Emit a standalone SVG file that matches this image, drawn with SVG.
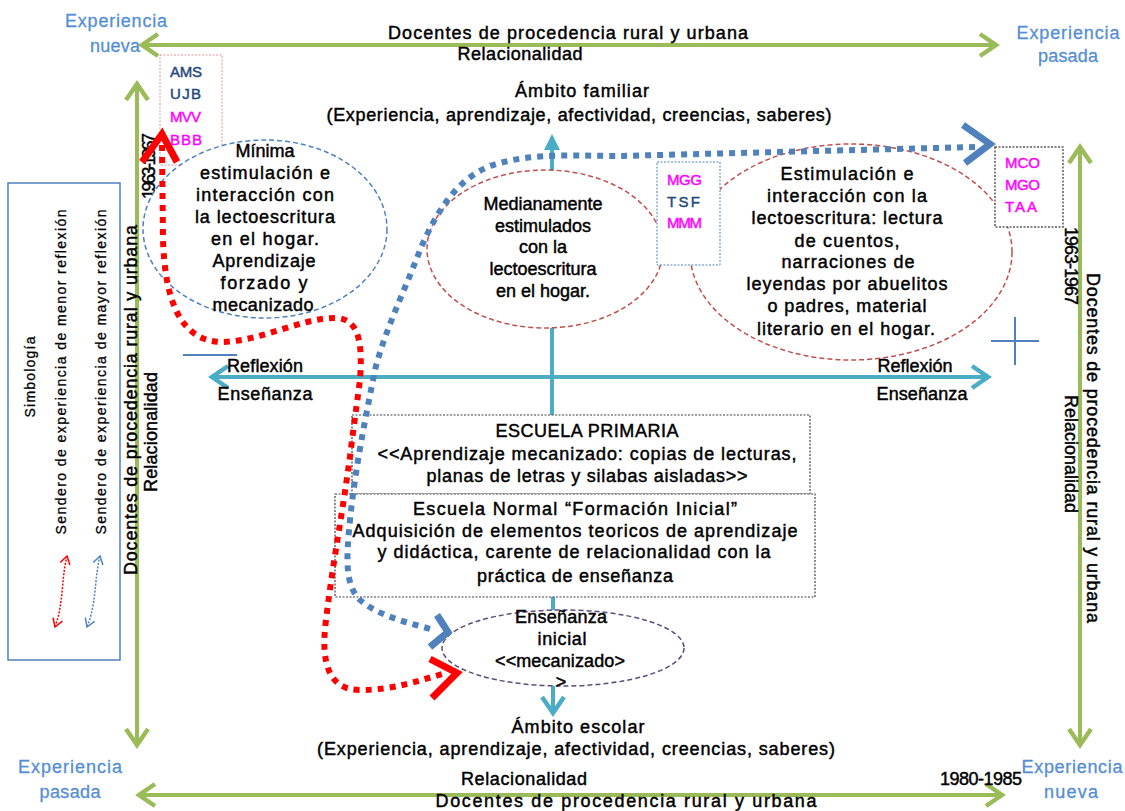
<svg xmlns="http://www.w3.org/2000/svg" width="1125" height="811" viewBox="0 0 1125 811">
<style>
text{font-family:"Liberation Sans",Arial,sans-serif;font-size:18px;fill:#000;stroke:#000;stroke-width:0.45;text-anchor:middle}
.corner{fill:#558ED5;stroke:#558ED5;stroke-width:0.3;font-size:18px}
.code{text-anchor:start;font-size:15px}
.navy{fill:#1F497D;stroke:#1F497D}
.mag{fill:#FF00FF;stroke:#FF00FF}
.leg{font-size:14px;stroke-width:0.3}
.green{stroke:#9BBB59;stroke-width:4;fill:none}
.teal{stroke:#4BACC6;stroke-width:4;fill:none}
.dotr{stroke:#FF0000;stroke-width:6;stroke-dasharray:6 6;fill:none}
.dotb{stroke:#4F81BD;stroke-width:6;stroke-dasharray:6 6;fill:none}
.chevr{stroke:#FF0000;stroke-width:7;fill:none}
.chevb{stroke:#4F81BD;stroke-width:7;fill:none}
.ell{fill:#fff;stroke-width:1.5;stroke-dasharray:5 3}
.box{fill:#fff;stroke:#404040;stroke-width:1.2;stroke-dasharray:2 1.5}
</style>
<defs>
<marker id="gA" markerUnits="userSpaceOnUse" markerWidth="24" markerHeight="28" viewBox="0 0 24 28" refX="20" refY="14" orient="auto-start-reverse"><path d="M4,3 L20,14 L4,25" fill="none" stroke="#9BBB59" stroke-width="4.5"/></marker>
<marker id="tA" markerUnits="userSpaceOnUse" markerWidth="24" markerHeight="28" viewBox="0 0 24 28" refX="20" refY="14" orient="auto-start-reverse"><path d="M4,3 L20,14 L4,25" fill="none" stroke="#4BACC6" stroke-width="4.5"/></marker>
<marker id="lr" markerUnits="userSpaceOnUse" markerWidth="12" markerHeight="12" viewBox="0 0 12 12" refX="10" refY="6" orient="auto-start-reverse"><path d="M2,1 L10,6 L2,11" fill="none" stroke="#FF0000" stroke-width="1.5"/></marker>
<marker id="lb" markerUnits="userSpaceOnUse" markerWidth="12" markerHeight="12" viewBox="0 0 12 12" refX="10" refY="6" orient="auto-start-reverse"><path d="M2,1 L10,6 L2,11" fill="none" stroke="#4F81BD" stroke-width="1.5"/></marker>
</defs>

<g id="axes">
<path class="green" d="M142,45 L996,45" marker-start="url(#gA)" marker-end="url(#gA)"/>
<path class="green" d="M139,795 L1002,795" marker-start="url(#gA)" marker-end="url(#gA)"/>
<path class="green" d="M137,84 L137,745" marker-start="url(#gA)" marker-end="url(#gA)"/>
<path class="green" d="M1080,147 L1080,745" marker-start="url(#gA)" marker-end="url(#gA)"/>
</g>

<g id="connectors">
<path class="teal" d="M212,377 L988,377" marker-start="url(#tA)" marker-end="url(#tA)"/>
<path class="teal" d="M552,415 L552,137"/>
<path d="M544,150 L552,134 L560,150 Z" fill="#4BACC6"/>
<path class="teal" d="M553,597 L553,611"/>
<path class="teal" d="M553,686 L553,713" marker-end="url(#tA)"/>
<path d="M183,355 L237,355" stroke="#4F81BD" stroke-width="2"/>
<path d="M991,341 L1039,341 M1015,317 L1015,365" stroke="#4F81BD" stroke-width="2" fill="none"/>
</g>

<g id="labels-axes">
<text class="corner" x="116" y="27" textLength="102">Experiencia</text>
<text class="corner" x="115" y="52" textLength="50">nueva</text>
<text class="corner" x="1068" y="39" textLength="103">Experiencia</text>
<text class="corner" x="1068" y="62" textLength="60">pasada</text>
<text class="corner" x="70" y="773" textLength="104">Experiencia</text>
<text class="corner" x="70" y="798" textLength="61">pasada</text>
<text class="corner" x="1072" y="773" textLength="101">Experiencia</text>
<text class="corner" x="1071" y="798" textLength="54">nueva</text>
<text x="568" y="39" textLength="360">Docentes de procedencia rural y urbana</text>
<text x="520" y="60" textLength="125">Relacionalidad</text>
<text x="524" y="785" textLength="126">Relacionalidad</text>
<text x="981" y="785" textLength="82">1980-1985</text>
<text x="626" y="807" textLength="381">Docentes de procedencia rural y urbana</text>
<text transform="translate(137,400) rotate(-90)" textLength="350">Docentes de procedencia rural y urbana</text>
<text transform="translate(157,432) rotate(-90)" textLength="120">Relacionalidad</text>
<text transform="translate(155,166) rotate(-90)" font-size="15" textLength="66">1963-1967</text>
<text transform="translate(1087,448) rotate(90)" textLength="350">Docentes de procedencia rural y urbana</text>
<text transform="translate(1065,454) rotate(90)" font-size="16" textLength="118">Relacionalidad</text>
<text transform="translate(1065,266) rotate(90)" font-size="15" textLength="78">1963-1967</text>
</g>

<g id="ambito-familiar">
<text x="582" y="97" textLength="134">Ámbito familiar</text>
<text x="579" y="121" textLength="505">(Experiencia, aprendizaje, afectividad, creencias, saberes)</text>
</g>

<g id="ambito-escolar">
<text x="578" y="733" textLength="133">Ámbito escolar</text>
<text x="576" y="755" textLength="518">(Experiencia, aprendizaje, afectividad, creencias, saberes)</text>
</g>

<g id="reflexion-izq">
<text x="265" y="372" textLength="76">Reflexión</text>
<text x="265" y="400" textLength="95">Enseñanza</text>
</g>
<g id="reflexion-der">
<text x="915" y="372" textLength="75">Reflexión</text>
<text x="922" y="400" textLength="91">Enseñanza</text>
</g>

<g id="leyenda">
<rect x="8" y="183" width="112" height="477" fill="#fff" stroke="#4F81BD" stroke-width="1.5"/>
<text class="leg" transform="translate(35,377) rotate(-90)" textLength="81">Simbología</text>
<text class="leg" transform="translate(66,372) rotate(-90)" textLength="325">Sendero de experiencia de menor reflexión</text>
<text class="leg" transform="translate(106,372) rotate(-90)" textLength="325">Sendero de experiencia de mayor reflexión</text>
<path d="M67,556 C61,580 64,602 55,627" stroke="#FF0000" stroke-width="1.5" stroke-dasharray="2 1.5" fill="none" marker-start="url(#lr)" marker-end="url(#lr)"/>
<path d="M100,556 C94,580 97,602 87,627" stroke="#4F81BD" stroke-width="1.5" stroke-dasharray="2 1.5" fill="none" marker-start="url(#lb)" marker-end="url(#lb)"/>
</g>

<g id="codigos-ams">
<rect x="160" y="55" width="62" height="110" fill="#fff" stroke="#D99694" stroke-width="1" stroke-dasharray="2 1.5"/>
<text class="code navy" x="170" y="77" textLength="32">AMS</text>
<text class="code navy" x="170" y="99" textLength="31">UJB</text>
<text class="code mag" x="170" y="122" textLength="31">MVV</text>
<text class="code mag" x="170" y="145" textLength="32">BBB</text>
</g>

<g id="nodo-minima">
<ellipse class="ell" cx="265" cy="229" rx="122" ry="89" stroke="#4F81BD"/>
<text x="265" y="157">Mínima</text>
<text x="265" y="179" textLength="130">estimulación e</text>
<text x="265" y="201" textLength="138">interacción con</text>
<text x="265" y="223" textLength="140">la lectoescritura</text>
<text x="265" y="245" textLength="108">en el hogar.</text>
<text x="264" y="267" textLength="103">Aprendizaje</text>
<text x="264" y="289" textLength="87">forzado y</text>
<text x="263" y="311" textLength="101">mecanizado</text>
</g>

<g id="nodo-medianamente">
<ellipse class="ell" cx="545" cy="249" rx="118" ry="79" stroke="#C0504D"/>
<text x="543" y="210">Medianamente</text>
<text x="543" y="232">estimulados</text>
<text x="543" y="253">con la</text>
<text x="543" y="275">lectoescritura</text>
<text x="543" y="297">en el hogar.</text>
</g>

<g id="nodo-estimulacion">
<ellipse class="ell" cx="851" cy="252" rx="161" ry="108" stroke="#C0504D"/>
<text x="847" y="180" textLength="133">Estimulación e</text>
<text x="847" y="202" textLength="160">interacción con la</text>
<text x="847" y="224" textLength="191">lectoescritura: lectura</text>
<text x="847" y="247" textLength="105">de cuentos,</text>
<text x="848" y="268" textLength="133">narraciones de</text>
<text x="847" y="290" textLength="201">leyendas por abuelitos</text>
<text x="847" y="312" textLength="159">o padres, material</text>
<text x="846" y="335" textLength="178">literario en el hogar.</text>
</g>

<g id="codigos-mgg">
<rect x="657" y="162" width="63" height="103" fill="#fff" stroke="#4F81BD" stroke-width="1" stroke-dasharray="2 1.5"/>
<text class="code mag" x="667" y="185" textLength="35">MGG</text>
<text class="code navy" x="667" y="207" textLength="33">TSF</text>
<text class="code mag" x="667" y="228" textLength="35">MMM</text>
</g>

<g id="codigos-mco">
<rect x="995" y="147" width="68" height="80" fill="#fff" stroke="#595959" stroke-width="1.5" stroke-dasharray="2 1.5"/>
<text class="code mag" x="1005" y="168" textLength="35">MCO</text>
<text class="code mag" x="1005" y="190" textLength="35">MGO</text>
<text class="code mag" x="1005" y="212" textLength="32">TAA</text>
</g>

<g id="escuela-primaria">
<rect class="box" x="352" y="415" width="458" height="79"/>
<text x="587" y="437" textLength="183">ESCUELA PRIMARIA</text>
<text x="587" y="460" textLength="419">&lt;&lt;Aprendizaje mecanizado: copias de lecturas,</text>
<text x="587" y="482" textLength="321">planas de letras y silabas aisladas&gt;&gt;</text>
</g>

<g id="escuela-normal">
<rect class="box" x="335" y="494" width="480" height="103"/>
<text x="575" y="515" textLength="324">Escuela Normal “Formación Inicial”</text>
<text x="575" y="537" textLength="445">Adquisición de elementos teoricos de aprendizaje</text>
<text x="574" y="558" textLength="393">y didáctica, carente de relacionalidad con la</text>
<text x="575" y="582" textLength="196">práctica de enseñanza</text>
</g>

<g id="nodo-ensenanza-inicial">
<ellipse class="ell" cx="563" cy="648" rx="121" ry="38" stroke="#604A7B"/>
<text x="561" y="623" textLength="92">Enseñanza</text>
<text x="562" y="645" textLength="49">inicial</text>
<text x="560" y="667" textLength="130">&lt;&lt;mecanizado&gt;</text>
<text x="561" y="688">&gt;</text>
</g>

<g id="senderos">
<path class="dotr" d="M162,145 L163,240 C165,300 180,340 220,342 C260,342 300,318 335,318 C362,318 362,350 360,380 L352,440 C345,500 333,560 326,620 C320,665 330,690 360,690 C395,690 420,680 446,673"/>
<polyline class="chevr" points="142,162 162,134 177,162"/>
<polyline class="chevr" points="430,659 457,673 432,698"/>
<path class="dotb" d="M975,147 L620,156 C580,156 530,152 490,166 C455,180 435,215 420,250 C405,290 385,330 375,370 C365,420 355,470 350,520 C346,560 345,585 360,600 C380,617 410,623 434,630"/>
<polyline class="chevb" points="963,125 990,144 965,163"/>
<polyline class="chevb" points="437,615 448,632 430,647"/>
</g>
</svg>
